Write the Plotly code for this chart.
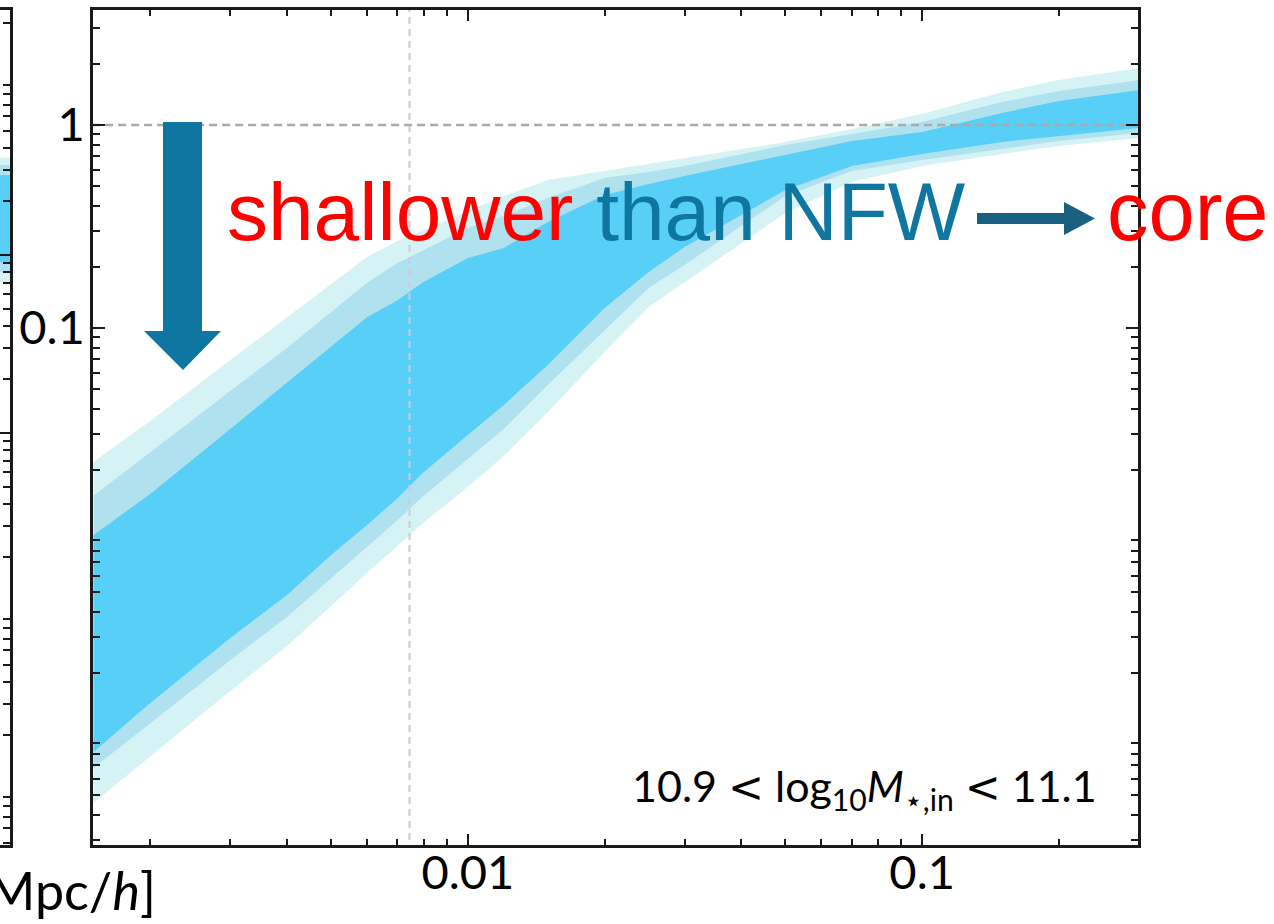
import plotly.graph_objects as go

# ---------------- data ----------------
r = [0.0015, 0.002, 0.003, 0.004, 0.005, 0.006, 0.007, 0.008, 0.01, 0.012, 0.015,
     0.02, 0.025, 0.03, 0.04, 0.05, 0.07, 0.1, 0.15, 0.2, 0.3]

outer_hi = [0.0219, 0.0348, 0.0695, 0.113, 0.165, 0.224, 0.268, 0.304, 0.373, 0.447, 0.536,
            0.593, 0.642, 0.688, 0.762, 0.825, 0.956, 1.133, 1.454, 1.666, 1.909]
mid_hi = [0.0149, 0.0245, 0.0489, 0.0797, 0.120, 0.167, 0.209, 0.242, 0.311, 0.356, 0.437,
          0.548, 0.587, 0.628, 0.720, 0.797, 0.903, 1.035, 1.298, 1.471, 1.666]
inner_hi = [0.00956, 0.0152, 0.0318, 0.0536, 0.0806, 0.113, 0.137, 0.169, 0.221, 0.248, 0.333,
            0.452, 0.512, 0.561, 0.642, 0.712, 0.834, 0.924, 1.146, 1.313, 1.487]
inner_lo = [0.000815, 0.00142, 0.00297, 0.00484, 0.00762, 0.0107, 0.0145, 0.0195, 0.0297, 0.0418, 0.0657,
            0.1255, 0.1888, 0.2506, 0.360, 0.478, 0.628, 0.720, 0.825, 0.883, 0.967]
mid_lo = [0.00068, 0.00113, 0.00231, 0.00377, 0.0058, 0.00834, 0.0113, 0.0149, 0.0226, 0.0318, 0.0524,
          0.0977, 0.1574, 0.2043, 0.318, 0.447, 0.593, 0.672, 0.762, 0.834, 0.913]
outer_lo = [0.000457, 0.00077, 0.00163, 0.00271, 0.00427, 0.00621, 0.00844, 0.0110, 0.0165, 0.0234, 0.0386,
            0.0762, 0.1269, 0.1685, 0.2623, 0.3685, 0.524, 0.628, 0.720, 0.788, 0.863]

# fragment of the neighbouring (left) panel
r_left = [0.25, 0.3]
left_outer_hi = [3.51, 3.51]
left_mid_hi = [3.2, 3.2]
left_inner_hi = [2.81, 2.81]
left_inner_lo = [0.91, 0.91]
left_mid_lo = [0.80, 0.80]
left_outer_lo = [0.705, 0.705]

r_ref = 0.00744          # vertical reference radius
y_ref = 1.0              # NFW reference level

x_tickvals = [0.01, 0.1]
x_ticktext = ["0.01", "0.1"]
y_tickvals = [0.1, 1]
y_ticktext = ["0.1", "1"]

LT = "<span style='font-family:DejaVu Sans'>&lt;</span>"
label_text = f"10.9 {LT} log<sub>10</sub><i>M</i><sub>⋆,in</sub> {LT} 11.1"

# ---------------- styling ----------------
C_OUT = "#d5f3f4"
C_MID = "#b0e1ef"
C_IN = "#57cff6"
TEAL = "#0e76a0"
DARK_TEAL = "#185f80"
SPINE = "#1a1a1a"
TICKFONT = dict(family="Lato, Open Sans, sans-serif", size=47, color="black")

W, H = 1274, 924
M_L, M_R, M_T, M_B = 0, 136, 10, 79
PW = W - M_L - M_R
PH = H - M_T - M_B


def pxx(x):
    return x / PW


def pxy(y):
    return (M_T + PH - y) / PH


fig = go.Figure()


def band(xs, hi, lo, color, xa="x", ya="y"):
    fig.add_trace(go.Scatter(
        x=list(xs) + list(xs)[::-1], y=list(hi) + list(lo)[::-1],
        fill="toself", fillcolor=color, line=dict(width=0), mode="lines",
        hoverinfo="skip", showlegend=False, xaxis=xa, yaxis=ya))


band(r, outer_hi, outer_lo, C_OUT)
band(r, mid_hi, mid_lo, C_MID)
band(r, inner_hi, inner_lo, C_IN)

band(r_left, left_outer_hi, left_outer_lo, C_OUT, "x2", "y2")
band(r_left, left_mid_hi, left_mid_lo, C_MID, "x2", "y2")
band(r_left, left_inner_hi, left_inner_lo, C_IN, "x2", "y2")

# reference lines
fig.add_trace(go.Scatter(x=[r_ref, r_ref], y=[1e-5, 100], mode="lines",
                         line=dict(color="#d9c4dd", width=2, dash="7px,5px"),
                         hoverinfo="skip", showlegend=False))
fig.add_trace(go.Scatter(x=[1e-4, 10], y=[y_ref, y_ref], mode="lines",
                         line=dict(color="#aaaaaa", width=2.5, dash="8px,5px"),
                         hoverinfo="skip", showlegend=False))
fig.add_trace(go.Scatter(x=[0.1, 1], y=[y_ref, y_ref], mode="lines",
                         line=dict(color="#aaaaaa", width=2.5, dash="8px,5px"),
                         hoverinfo="skip", showlegend=False, xaxis="x2", yaxis="y2"))

x_minor = [m * 10 ** e for e in range(-3, 0) for m in range(2, 10)]
y_minor = [m * 10 ** e for e in range(-4, 1) for m in range(2, 10)]
yl_minor = [m * 10 ** e for e in range(-4, 2) for m in range(2, 10)]

axis_common = dict(type="log", showgrid=False, zeroline=False, showline=True,
                   linecolor=SPINE, linewidth=2.5, ticks="inside", tickcolor=SPINE,
                   tickwidth=2, automargin=False)

fig.update_layout(
    width=W, height=H,
    margin=dict(l=M_L, r=M_R, t=M_T, b=M_B),
    paper_bgcolor="white", plot_bgcolor="white",
    showlegend=False,
    xaxis=dict(**axis_common, domain=[93 / PW, 1], range=[-2.825, -0.525],
               mirror="allticks", tickmode="array", tickvals=x_tickvals, ticktext=x_ticktext,
               ticklen=11, tickfont=TICKFONT, ticklabelstandoff=-15,
               minor=dict(tickmode="array", tickvals=x_minor, ticks="inside", ticklen=6,
                          tickwidth=2, tickcolor=SPINE, showgrid=False),
               anchor="y"),
    yaxis=dict(**axis_common, domain=[0, 1], range=[-3.547, 0.5665],
               mirror="allticks", tickmode="array", tickvals=y_tickvals, ticktext=y_ticktext,
               ticklen=12, tickfont=TICKFONT, ticklabelstandoff=-4,
               minor=dict(tickmode="array", tickvals=y_minor, ticks="inside", ticklen=7,
                          tickwidth=2, tickcolor=SPINE, showgrid=False),
               anchor="x"),
    xaxis2=dict(type="log", showgrid=False, zeroline=False, showline=True, linecolor=SPINE,
                linewidth=2.5, mirror=True, ticks="", showticklabels=False,
                domain=[0, 10 / PW], range=[-0.602, -0.523], anchor="y2", automargin=False),
    yaxis2=dict(**axis_common, domain=[0, 1], range=[-3.315, 1.376], side="right",
                anchor="x2", showticklabels=False, tickmode="array", tickvals=[0.1, 1],
                ticklen=12,
                minor=dict(tickmode="array", tickvals=yl_minor, ticks="inside", ticklen=7,
                           tickwidth=2, tickcolor=SPINE, showgrid=False)),
)

# big downward block arrow
down = [(163, 122), (202, 122), (202, 331), (221, 331), (183, 370), (144, 331), (163, 331)]
path = "M " + " L ".join(f"{pxx(a):.5f},{pxy(b):.5f}" for a, b in down) + " Z"
fig.add_shape(type="path", path=path, xref="paper", yref="paper",
              fillcolor=TEAL, line=dict(width=0), layer="above")

# horizontal arrow
right = [(977, 213), (1064, 213), (1064, 202), (1095, 218.5), (1064, 235), (1064, 224), (977, 224)]
path = "M " + " L ".join(f"{pxx(a):.5f},{pxy(b):.5f}" for a, b in right) + " Z"
fig.add_shape(type="path", path=path, xref="paper", yref="paper",
              fillcolor=DARK_TEAL, line=dict(width=0), layer="above")

ANN_FONT = "Liberation Sans, Arial, sans-serif"
fig.add_annotation(xref="paper", yref="paper", x=pxx(225), y=pxy(212),
                   xanchor="left", yanchor="middle", showarrow=False,
                   text="<span style='color:#ff0000'>shallower</span> "
                        f"<span style='color:{TEAL}'>than NFW</span>",
                   font=dict(family=ANN_FONT, size=82))
fig.add_annotation(xref="paper", yref="paper", x=pxx(1105), y=pxy(212),
                   xanchor="left", yanchor="middle", showarrow=False,
                   text="core", font=dict(family=ANN_FONT, size=83, color="#ff0000"))

fig.add_annotation(xref="paper", yref="paper", x=pxx(1099), y=pxy(788),
                   xanchor="right", yanchor="middle", showarrow=False,
                   text=label_text,
                   font=dict(family="Lato, Open Sans, sans-serif", size=43, color="black"))

fig.add_annotation(xref="paper", yref="paper", x=pxx(158), y=pxy(890),
                   xanchor="right", yanchor="middle", showarrow=False,
                   text="Mpc/<i>h</i>]",
                   font=dict(family="Lato, Open Sans, sans-serif", size=52, color="black"))

fig.write_html("out.html", post_script="document.body.style.margin='0px';",
               config={"displayModeBar": False})
